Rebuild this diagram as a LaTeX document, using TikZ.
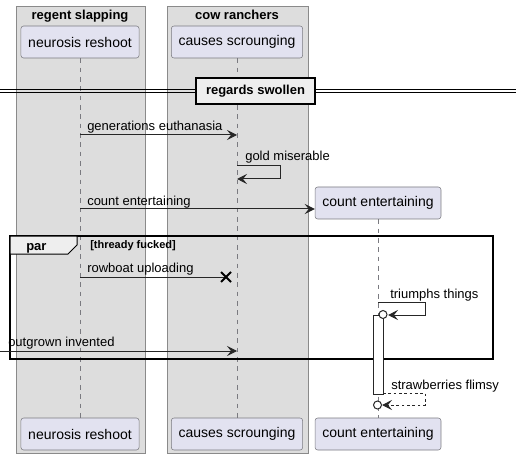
\documentclass[tikz,border=0pt]{standalone}
\usepackage{fontspec}
\setmainfont{Liberation Sans}
\usetikzlibrary{arrows.meta,calc}
\definecolor{boxgray}{HTML}{DDDDDD}
\definecolor{boxline}{HTML}{8A8A8A}
\definecolor{partfill}{HTML}{E2E2F0}
\definecolor{partline}{HTML}{7A7A80}
\definecolor{tabfill}{HTML}{EEEEEE}

\begin{document}
\begin{tikzpicture}[x=0.75pt,y=-0.75pt]
        \tikzstyle{every node}+=[inner sep=0pt]
        \tikzstyle{part}=[draw=partline, fill=partfill, rounded corners=2pt, minimum height=24pt, inner xsep=5.5pt, font=\fontsize{10.5}{12}\selectfont]
        \tikzstyle{life}=[draw=partline, dash pattern=on 3.5pt off 3.5pt, line width=0.5pt]
        \tikzstyle{msg}=[draw=black!85, line width=0.75pt, -{Stealth[length=7.5pt,width=7.5pt,inset=3pt]}]
        \tikzstyle{lbl}=[anchor=base west, font=\fontsize{9.75}{11}\selectfont]
        \tikzstyle{ttl}=[anchor=base, font=\bfseries\fontsize{9.75}{11}\selectfont]
        \useasboundingbox (0,0) rectangle (516,459);
        % boxes
        \draw [boxline, fill=boxgray] (16,6) rectangle (145,453);
        \draw [boxline, fill=boxgray] (167,6) rectangle (308,453);
        \node [ttl] (boxa) at (80,20) {regent slapping};
        \node [ttl] (boxb) at (237,20) {cow ranchers};
        % participants
        \node [part] (neuro) at (80,42) {neurosis reshoot};
        \node [part] (causes) at (237,42) {causes scrounging};
        \node [part] (count) at (378,203) {count entertaining};
        \node [part] (neurob) at (80,434) {neurosis reshoot};
        \node [part] (causesb) at (237,434) {causes scrounging};
        \node [part] (countb) at (378,434) {count entertaining};
        \draw [life] (neuro) -- (neurob);
        \draw [life] (causes) -- (causesb);
        \draw [life] (count) -- (countb);
        % divider
        \draw [black, line width=0.75pt] (0,89.5) -- (516,89.5);
        \draw [black, line width=0.75pt] (0,92.5) -- (516,92.5);
        \node [draw=black, line width=1.5pt, fill=tabfill, minimum width=89pt, minimum height=19pt, font=\bfseries\fontsize{9.75}{11}\selectfont] (div) at (255.5,91) {regards swollen};
        % messages
        \draw [msg] (neuro.south |- 0,135) -- (causes.south |- 0,135);
        \node [lbl] (l1) at (87,131) {generations euthanasia};
        \draw [msg] (causes.south |- 0,166) -- (280,166) -- (280,179) -- (causes.south |- 0,179);
        \node [lbl] (l2) at (245,161) {gold miserable};
        \draw [msg] (neuro.south |- 0,209) -- (count.west |- 0,209);
        \node [lbl] (l3) at (87,205) {count entertaining};
        % par frame
        \draw [black, line width=1.5pt] (10,236) rectangle (493,359);
        \draw [black, line width=0.75pt, fill=tabfill] (10,236) -- (77,236) -- (77,245) -- (68,254) -- (10,254) -- cycle;
        \node [anchor=base west, font=\bfseries\fontsize{9.75}{11}\selectfont] (par) at (26,250) {par};
        \node [anchor=base west, font=\bfseries\fontsize{8.25}{10}\selectfont] (guard) at (90,248.5) {[thready fucked]};
        \coordinate (xm) at (226,277);
        \draw [draw=black!85, line width=0.75pt] (neuro.south |- 0,277) -- (xm);
        \draw [black, line width=1.5pt] ($(xm)+(-5,-5)$) -- ($(xm)+(5,5)$) ($(xm)+(-5,5)$) -- ($(xm)+(5,-5)$);
        \node [lbl] (l4) at (87,272) {rowboat uploading};
        % activation
        \draw [black!85, fill=white, line width=0.75pt] (373,315) rectangle (383,394);
        \coordinate (c1) at (383,314.5);
        \draw [msg] (count.south |- 0,302) -- (425,302) -- (425,315) -- (388,315);
        \draw [black!85, fill=white, line width=0.75pt] (c1) circle (4);
        \node [lbl] (l5) at (390,298) {triumphs things};
        \coordinate (ext) at (0,351);
        \draw [msg] (ext) -- (causes.south |- 0,351);
        \node [lbl] (l6) at (8,346) {outgrown invented};
        \coordinate (c2) at (377.5,405);
        \draw [msg, dash pattern=on 2pt off 2pt] (383,393) -- (425,393) -- (425,405) -- (382,405);
        \draw [black!85, fill=white, line width=0.75pt] (c2) circle (4);
        \node [lbl] (l7) at (391,389) {strawberries flimsy};
\end{tikzpicture}
\end{document}
